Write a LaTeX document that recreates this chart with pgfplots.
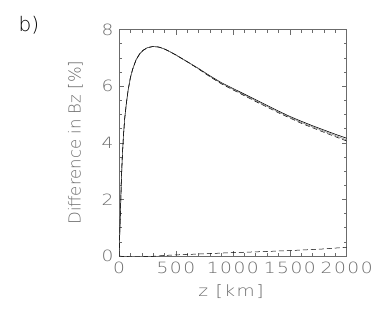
\documentclass[border=0pt]{standalone}
\usepackage{fontspec}
\setmainfont{DejaVu Sans ExtraLight}
\newfontfamily\tickfont{DejaVu Sans ExtraLight}[FakeStretch=1.2, LetterSpace=10]
\usepackage{pgfplots}
\pgfplotsset{compat=1.18}
\definecolor{tgray}{gray}{0.42}
\begin{document}
\fontsize{16}{19}\selectfont
\begin{tikzpicture}
\path[use as bounding box] (-119pt,-60pt) rectangle (263pt,256pt);
\begin{axis}[at={(0,0)}, anchor=south west, scale only axis,
  width=227.7pt, height=226.5pt,
  xmin=0, xmax=2000, ymin=0, ymax=8,
  xtick={0,500,...,2000}, ytick={0,2,...,8},
  minor x tick num=4, minor y tick num=3,
  axis line style={tgray, line width=0.6pt},
  tick style={tgray, line width=0.5pt},
  major tick length=5pt, minor tick length=3pt,
  tick label style={text=tgray, font=\tickfont\fontsize{15.5}{19}\selectfont},
  /pgf/number format/assume math mode=true,
  /pgf/number format/1000 sep={},
]
\addplot[black, line width=0.6pt] coordinates {
(0,0) (5,0.6) (10,1.2) (20,2.6) (30,3.6) (40,4.3) (50,4.85) (65,5.4) (80,5.85)
(100,6.3) (120,6.6) (150,6.93) (180,7.13) (210,7.26) (250,7.36) (300,7.40)
(350,7.38) (400,7.31) (450,7.21) (500,7.10) (600,6.86) (700,6.62) (800,6.36)
(900,6.12) (1000,5.92) (1100,5.72) (1200,5.52) (1300,5.32) (1400,5.12)
(1500,4.93) (1600,4.76) (1700,4.60) (1800,4.45) (1900,4.30) (2000,4.16)};
\addplot[gray, line width=0.5pt] coordinates {
(0,0) (5,0.6) (10,1.2) (20,2.6) (30,3.6) (40,4.3) (50,4.85) (65,5.4) (80,5.85)
(100,6.3) (120,6.6) (150,6.93) (180,7.13) (210,7.26) (250,7.36) (300,7.40)
(350,7.38) (400,7.31) (450,7.21) (500,7.10) (600,6.86) (700,6.61) (800,6.34)
(900,6.10) (1000,5.89) (1200,5.49) (1400,5.09) (1600,4.72) (1800,4.41) (2000,4.10)};
\addplot[black, line width=0.5pt, dash pattern=on 5pt off 3pt] coordinates {
(0,0) (5,0.6) (10,1.2) (20,2.6) (30,3.6) (40,4.3) (50,4.85) (65,5.4) (80,5.85)
(100,6.3) (120,6.6) (150,6.93) (180,7.13) (210,7.26) (250,7.36) (300,7.40)
(350,7.38) (400,7.31) (450,7.21) (500,7.10) (600,6.86) (700,6.60) (800,6.33)
(900,6.08) (1000,5.87) (1200,5.46) (1400,5.06) (1600,4.69) (1800,4.37) (2000,4.06)};
\addplot[black, line width=0.5pt, dash pattern=on 5pt off 3pt] coordinates {
(0,0) (50,-0.02) (100,-0.03) (200,-0.03) (300,-0.01) (400,0.02) (500,0.04)
(700,0.07) (1000,0.12) (1300,0.16) (1600,0.21) (1800,0.25) (2000,0.31)};
\end{axis}
\node[text=tgray, font=\fontsize{16.5}{20}\selectfont, rotate=90] at (-43.5pt,113.25pt) {Difference in Bz [\%]};
\node[text=tgray, font=\tickfont\fontsize{15.5}{19}\selectfont] at (112pt,-36pt) {z [km]};
\node[text=black, font=\fontsize{20}{24}\selectfont] at (-90pt,231pt) {b)};
\end{tikzpicture}
\end{document}
